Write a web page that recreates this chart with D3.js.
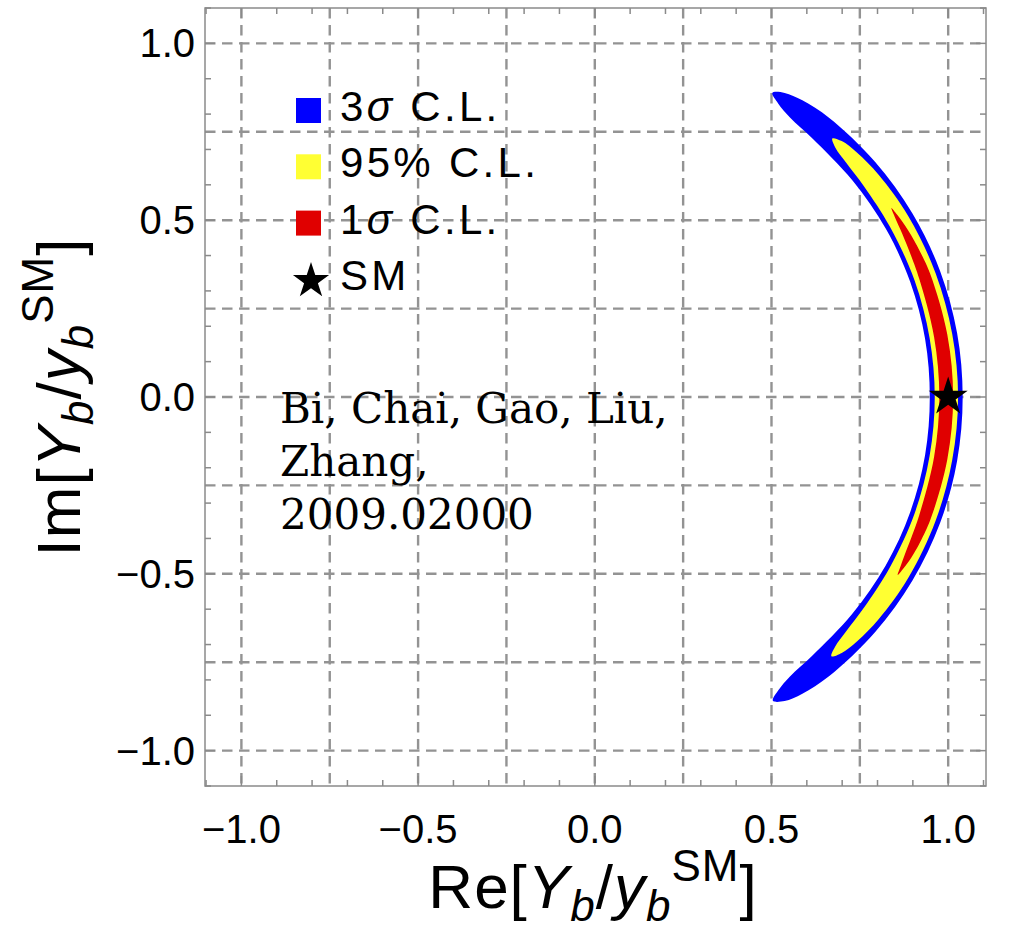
<!DOCTYPE html>
<html>
<head>
<meta charset="utf-8">
<script src="https://cdn.jsdelivr.net/npm/d3@7"></script>
<style>
  body { margin: 0; background: #fff; }
  svg { display: block; }
</style>
</head>
<body>
<svg id="chart" width="1010" height="934"></svg>
<script>
// ---- axis ticks and grid ----
const majorTicks = [-1.0, -0.5, 0.0, 0.5, 1.0];
const minorTicks = [-1.1, -0.9, -0.8, -0.7, -0.6, -0.4, -0.3, -0.2, -0.1,
                    0.1, 0.2, 0.3, 0.4, 0.6, 0.7, 0.8, 0.9, 1.1];
const gridValues = [-1.0, -0.75, -0.5, -0.25, 0.0, 0.25, 0.5, 0.75, 1.0];

// ---- allowed regions of the bottom Yukawa coupling, polar form ----
// angle of Y_b/y_b^SM in degrees, inner / outer modulus of each region
const sigma3Angle = [-59.6, -58, -55, -50, -40, -30, -20, -10, 0, 10, 20, 30, 40, 50, 55, 58, 59.7];
const sigma3Inner = [0.996, 0.979, 0.964, 0.956, 0.952, 0.951, 0.950, 0.949, 0.948, 0.949, 0.950, 0.951, 0.952, 0.956, 0.964, 0.979, 0.996];
const sigma3Outer = [0.996, 1.014, 1.024, 1.031, 1.035, 1.038, 1.040, 1.041, 1.041, 1.041, 1.040, 1.038, 1.035, 1.031, 1.024, 1.014, 0.996];

const cl95Angle = [-47.6, -46, -43, -38, -30, -20, -10, 0, 10, 20, 30, 38, 43, 46, 47.4];
const cl95Inner = [0.993, 0.980, 0.972, 0.967, 0.964, 0.963, 0.962, 0.962, 0.962, 0.963, 0.964, 0.967, 0.972, 0.980, 0.993];
const cl95Outer = [0.993, 1.006, 1.014, 1.020, 1.024, 1.026, 1.027, 1.028, 1.027, 1.026, 1.024, 1.020, 1.014, 1.006, 0.993];

const sigma1Angle = [-30.4, -29, -27, -24, -20, -10, 0, 10, 20, 24, 28, 31, 32.5];
const sigma1Inner = [0.994, 0.989, 0.984, 0.980, 0.977, 0.975, 0.975, 0.975, 0.977, 0.980, 0.985, 0.990, 0.995];
const sigma1Outer = [0.994, 0.999, 1.004, 1.008, 1.011, 1.013, 1.014, 1.013, 1.011, 1.008, 1.004, 0.999, 0.995];

// Standard Model point
const smPoint = [1.0, 0.0];

// legend entries
const legendLabels = [
  { kind: "box", color: "#0000ff", parts: [["3", false], ["σ", true], [" C.L.", false]] },
  { kind: "box", color: "#ffff33", parts: [["95% C.L.", false]] },
  { kind: "box", color: "#e00000", parts: [["1", false], ["σ", true], [" C.L.", false]] },
  { kind: "star", color: "#000", parts: [["SM", false]] }
];
const noteLines = ["Bi, Chai, Gao, Liu,", "Zhang,", "2009.02000"];

// ---- layout ----
const svg = d3.select("#chart");
const plot = { left: 205, right: 986, top: 8, bottom: 786 };
const x = d3.scaleLinear().domain([-1.103, 1.107]).range([plot.left, plot.right]);
const y = d3.scaleLinear().domain([-1.1, 1.1]).range([plot.bottom, plot.top]);
const sansFont = "'Liberation Sans', Arial, sans-serif";

// dashed grid
const grid = svg.append("g")
  .attr("stroke", "#939393").attr("stroke-width", 2.4)
  .attr("stroke-dasharray", "10.5,6.5").attr("fill", "none");
grid.selectAll("line.v").data(gridValues).join("line").attr("class", "v")
  .attr("x1", d => x(d)).attr("x2", d => x(d))
  .attr("y1", plot.top).attr("y2", plot.bottom);
grid.selectAll("line.h").data(gridValues).join("line").attr("class", "h")
  .attr("y1", d => y(d)).attr("y2", d => y(d))
  .attr("x1", plot.left).attr("x2", plot.right);

// confidence regions
function bandPoints(ang, rin, rout) {
  const toXY = (a, r) => [r * Math.cos(a * Math.PI / 180), r * Math.sin(a * Math.PI / 180)];
  const outer = ang.map((a, i) => toXY(a, rout[i]));
  const inner = ang.map((a, i) => toXY(a, rin[i])).reverse().slice(1, -1);
  return outer.concat(inner);
}
const bandLine = d3.line()
  .x(d => x(d[0])).y(d => y(d[1]))
  .curve(d3.curveCatmullRomClosed.alpha(0.5));

const regions = [
  { ang: sigma3Angle, rin: sigma3Inner, rout: sigma3Outer, color: "#0000ff" },
  { ang: cl95Angle, rin: cl95Inner, rout: cl95Outer, color: "#ffff33" },
  { ang: sigma1Angle, rin: sigma1Inner, rout: sigma1Outer, color: "#e00000" }
];
const defs = svg.append("defs");
defs.append("filter").attr("id", "soft")
  .append("feGaussianBlur").attr("stdDeviation", 0.7);
svg.append("g").attr("filter", "url(#soft)")
  .selectAll("path").data(regions).join("path")
  .attr("d", d => bandLine(bandPoints(d.ang, d.rin, d.rout)))
  .attr("fill", d => d.color);

// SM star
const starR = 20.5;
const ka = 0.8908130915292852;
svg.append("path")
  .attr("d", d3.symbol(d3.symbolStar, starR * starR / ka)())
  .attr("transform", `translate(${x(smPoint[0])},${y(smPoint[1])})`)
  .attr("fill", "#000");

// frame and ticks (inward, all four sides)
const frame = svg.append("g").attr("stroke", "#8a8a8a").attr("stroke-width", 1.5).attr("fill", "none");
frame.append("rect")
  .attr("x", plot.left).attr("y", plot.top)
  .attr("width", plot.right - plot.left).attr("height", plot.bottom - plot.top);
const allTicks = majorTicks.map(v => ({ v, len: 10 })).concat(minorTicks.map(v => ({ v, len: 6 })));
frame.selectAll("line.bx").data(allTicks).join("line").attr("class", "bx")
  .attr("x1", d => x(d.v)).attr("x2", d => x(d.v))
  .attr("y1", plot.bottom).attr("y2", d => plot.bottom - d.len);
frame.selectAll("line.tx").data(allTicks).join("line").attr("class", "tx")
  .attr("x1", d => x(d.v)).attr("x2", d => x(d.v))
  .attr("y1", plot.top).attr("y2", d => plot.top + d.len);
frame.selectAll("line.ly").data(allTicks).join("line").attr("class", "ly")
  .attr("y1", d => y(d.v)).attr("y2", d => y(d.v))
  .attr("x1", plot.left).attr("x2", d => plot.left + d.len);
frame.selectAll("line.ry").data(allTicks).join("line").attr("class", "ry")
  .attr("y1", d => y(d.v)).attr("y2", d => y(d.v))
  .attr("x1", plot.right).attr("x2", d => plot.right - d.len);

// tick labels
const fmt = v => (v < 0 ? "\u2212" : "") + Math.abs(v).toFixed(1);
svg.append("g").selectAll("text").data(majorTicks).join("text")
  .attr("x", d => x(d)).attr("y", plot.bottom + 57)
  .attr("text-anchor", "middle")
  .attr("font-family", sansFont).attr("font-size", 40).attr("fill", "#000")
  .text(fmt);
svg.append("g").selectAll("text").data(majorTicks).join("text")
  .attr("x", plot.left - 10).attr("y", d => y(d) + 14)
  .attr("text-anchor", "end")
  .attr("font-family", sansFont).attr("font-size", 40).attr("fill", "#000")
  .text(fmt);

// axis titles: Re[Y_b / y_b^SM] and Im[...]
function axisTitle(sel, head) {
  sel.attr("font-family", sansFont).attr("font-size", 62).attr("fill", "#000")
    .attr("letter-spacing", 1);
  sel.append("tspan").text(head + "[");
  sel.append("tspan").attr("font-style", "italic").text("Y");
  sel.append("tspan").attr("font-style", "italic").attr("font-size", 44).attr("dy", 13).text("b");
  sel.append("tspan").attr("dy", -13).text("/");
  sel.append("tspan").attr("font-style", "italic").text("y");
  sel.append("tspan").attr("font-style", "italic").attr("font-size", 44).attr("dy", 13).text("b");
  sel.append("tspan").attr("font-size", 44).attr("dy", -40).text("SM");
  sel.append("tspan").attr("dy", 27).text("]");
}
svg.append("text").attr("x", 593).attr("y", 908)
  .attr("text-anchor", "middle").call(axisTitle, "Re");
svg.append("text")
  .attr("transform", `translate(80,${y(0)}) rotate(-90)`)
  .attr("text-anchor", "middle").call(axisTitle, "Im");

// legend
const legend = svg.append("g").attr("font-family", sansFont).attr("font-size", 42);
legendLabels.forEach((d, i) => {
  const base = 121 + i * 56.3;
  if (d.kind === "box") {
    legend.append("rect").attr("x", 296).attr("y", base - 23)
      .attr("width", 25).attr("height", 25).attr("fill", d.color);
  } else {
    legend.append("path")
      .attr("d", d3.symbol(d3.symbolStar, 19 * 19 / ka)())
      .attr("transform", `translate(311,${base - 9})`).attr("fill", d.color);
  }
  const t = legend.append("text").attr("x", 340).attr("y", base).attr("letter-spacing", 3.3);
  d.parts.forEach(p => t.append("tspan").attr("font-style", p[1] ? "italic" : null).text(p[0]));
});

// citation note
svg.append("g").selectAll("text").data(noteLines).join("text")
  .attr("x", 280).attr("y", (d, i) => 423 + i * 53)
  .attr("font-family", "'DejaVu Serif', Georgia, serif").attr("font-size", 42).attr("fill", "#000")
  .text(d => d);
</script>
</body>
</html>
